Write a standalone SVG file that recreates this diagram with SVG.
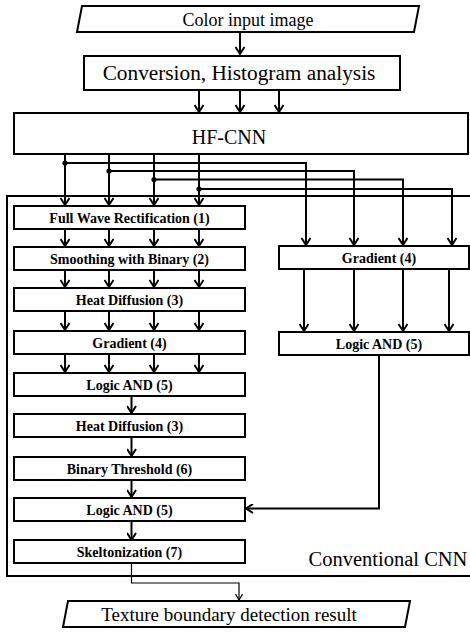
<svg xmlns="http://www.w3.org/2000/svg" width="470" height="633" viewBox="0 0 470 633">
<defs>
<style>
.box{fill:#fff;stroke:#000;stroke-width:2}
.t{font-family:"Liberation Serif","Times New Roman",serif;fill:#000;text-anchor:middle}
.b{font-weight:bold;font-size:14px}
.c{fill:none;stroke:#000;stroke-width:2}
.thin{fill:none;stroke:#000;stroke-width:1.2}
</style>
<marker id="ah" markerUnits="userSpaceOnUse" viewBox="-8 -5 10 10" markerWidth="10" markerHeight="10" refX="0" refY="0" orient="auto">
<path d="M-7,-4.5 L0,0 L-7,4.5" fill="none" stroke="#000" stroke-width="2"/>
</marker>
<marker id="ahs" markerUnits="userSpaceOnUse" viewBox="-8 -5 10 10" markerWidth="10" markerHeight="10" refX="0" refY="0" orient="auto">
<path d="M-6,-3.5 L0,0 L-6,3.5" fill="none" stroke="#000" stroke-width="1.2"/>
</marker>
</defs>
<rect width="470" height="633" fill="#fff"/>

<g id="cnn-frame">
<path class="c" d="M475,196 H7 V576 H475"/>
<text class="t" x="388" y="566" font-size="20.5">Conventional CNN</text>
</g>

<g id="connectors">
<path class="c" d="M240,32 V54" marker-end="url(#ah)"/>
<path class="c" d="M199,90 V112" marker-end="url(#ah)"/>
<path class="c" d="M240,90 V112" marker-end="url(#ah)"/>
<path class="c" d="M279,90 V112" marker-end="url(#ah)"/>
<path class="c" d="M65,154 V205" marker-end="url(#ah)"/>
<path class="c" d="M109,154 V205" marker-end="url(#ah)"/>
<path class="c" d="M154,154 V205" marker-end="url(#ah)"/>
<path class="c" d="M199,154 V205" marker-end="url(#ah)"/>
<path class="c" d="M65,163 H306 V245" marker-end="url(#ah)"/>
<path class="c" d="M109,171 H354 V245" marker-end="url(#ah)"/>
<path class="c" d="M154,179.5 H403 V245" marker-end="url(#ah)"/>
<path class="c" d="M199,189 H452 V245" marker-end="url(#ah)"/>
<circle cx="65" cy="163" r="2.6"/>
<circle cx="109" cy="171" r="2.6"/>
<circle cx="154" cy="179.5" r="2.6"/>
<circle cx="199" cy="189" r="2.6"/>
<path class="c" d="M65,229 V246" marker-end="url(#ah)"/>
<path class="c" d="M109,229 V246" marker-end="url(#ah)"/>
<path class="c" d="M154,229 V246" marker-end="url(#ah)"/>
<path class="c" d="M199,229 V246" marker-end="url(#ah)"/>
<path class="c" d="M65,270 V287" marker-end="url(#ah)"/>
<path class="c" d="M109,270 V287" marker-end="url(#ah)"/>
<path class="c" d="M154,270 V287" marker-end="url(#ah)"/>
<path class="c" d="M199,270 V287" marker-end="url(#ah)"/>
<path class="c" d="M65,311 V330" marker-end="url(#ah)"/>
<path class="c" d="M109,311 V330" marker-end="url(#ah)"/>
<path class="c" d="M154,311 V330" marker-end="url(#ah)"/>
<path class="c" d="M199,311 V330" marker-end="url(#ah)"/>
<path class="c" d="M65,354 V372" marker-end="url(#ah)"/>
<path class="c" d="M109,354 V372" marker-end="url(#ah)"/>
<path class="c" d="M154,354 V372" marker-end="url(#ah)"/>
<path class="c" d="M199,354 V372" marker-end="url(#ah)"/>
<path class="c" d="M131.5,396 V413" marker-end="url(#ah)"/>
<path class="c" d="M131.5,437 V456" marker-end="url(#ah)"/>
<path class="c" d="M131.5,480 V497" marker-end="url(#ah)"/>
<path class="c" d="M131.5,521 V540" marker-end="url(#ah)"/>
<path class="c" d="M304,269 V331" marker-end="url(#ah)"/>
<path class="c" d="M354,269 V331" marker-end="url(#ah)"/>
<path class="c" d="M403,269 V331" marker-end="url(#ah)"/>
<path class="c" d="M449,269 V331" marker-end="url(#ah)"/>
<path class="c" d="M379,355 V508.5 H246" marker-end="url(#ah)"/>
<path class="thin" d="M131.5,563 V583 H239 V600" marker-end="url(#ahs)"/>
</g>

<g id="input">
<polygon class="box" points="82,6 419,6 414,32 77,32"/>
<text class="t" x="248" y="26" font-size="18">Color input image</text>
</g>
<g id="conversion">
<rect class="box" x="84" y="56" width="316" height="34"/>
<text class="t" x="239" y="80" font-size="21.3">Conversion, Histogram analysis</text>
</g>
<g id="hfcnn">
<rect class="box" x="14" y="113" width="454" height="41"/>
<text class="t" x="229" y="144" font-size="20">HF-CNN</text>
</g>

<g id="fwr">
<rect class="box" x="14" y="206" width="231" height="23"/>
<text class="t b" x="129.5" y="222.5">Full Wave Rectification (1)</text>
</g>
<g id="smoothing">
<rect class="box" x="14" y="247" width="231" height="23"/>
<text class="t b" x="129.5" y="263.5">Smoothing with Binary (2)</text>
</g>
<g id="heat1">
<rect class="box" x="14" y="288" width="231" height="23"/>
<text class="t b" x="129.5" y="304.5">Heat Diffusion (3)</text>
</g>
<g id="gradient-left">
<rect class="box" x="14" y="331" width="231" height="23"/>
<text class="t b" x="129.5" y="347.5">Gradient (4)</text>
</g>
<g id="and1">
<rect class="box" x="14" y="373" width="231" height="23"/>
<text class="t b" x="129.5" y="389.5">Logic AND (5)</text>
</g>
<g id="heat2">
<rect class="box" x="14" y="414" width="231" height="23"/>
<text class="t b" x="129.5" y="430.5">Heat Diffusion (3)</text>
</g>
<g id="binary">
<rect class="box" x="14" y="457" width="231" height="23"/>
<text class="t b" x="129.5" y="473.5">Binary Threshold (6)</text>
</g>
<g id="and2">
<rect class="box" x="14" y="498" width="231" height="23"/>
<text class="t b" x="129.5" y="514.5">Logic AND (5)</text>
</g>
<g id="skel">
<rect class="box" x="14" y="540" width="231" height="23"/>
<text class="t b" x="129.5" y="556.5">Skeltonization (7)</text>
</g>

<g id="gradient-right">
<rect class="box" x="279" y="246" width="190" height="23"/>
<text class="t b" x="379" y="262.5">Gradient (4)</text>
</g>
<g id="and-right">
<rect class="box" x="279" y="332" width="190" height="23"/>
<text class="t b" x="379" y="348.5">Logic AND (5)</text>
</g>

<g id="output">
<polygon class="box" points="68,601 410,601 405,627 63,627"/>
<text class="t" x="229" y="621" font-size="19">Texture boundary detection result</text>
</g>
</svg>
